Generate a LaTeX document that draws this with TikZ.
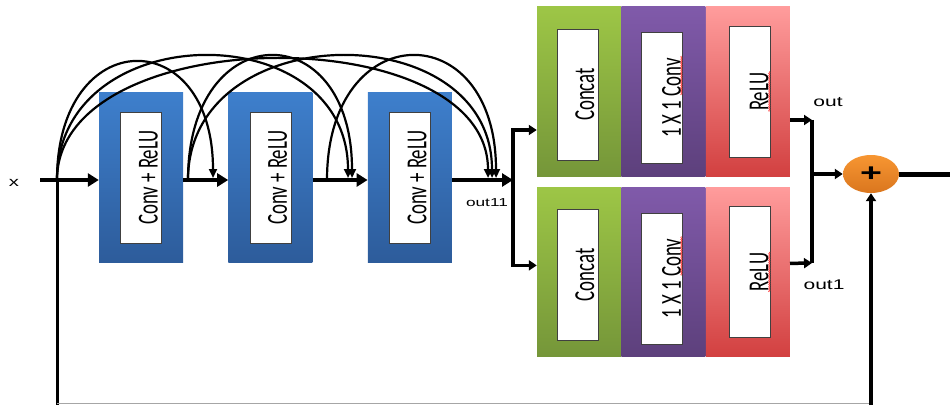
\documentclass[tikz,border=0pt]{standalone}
\usepackage{fontspec}
\usetikzlibrary{positioning, arrows.meta, shapes.geometric, decorations.pathmorphing}
\newfontfamily\blockfont[FakeStretch=0.65]{Carlito}
\newfontfamily\tagfont[FakeStretch=1.5]{Liberation Sans}
\definecolor{convtop}{RGB}{62,127,204}
\definecolor{convbot}{RGB}{45,92,155}
\definecolor{cattop}{RGB}{157,198,70}
\definecolor{catbot}{RGB}{117,150,57}
\definecolor{onetop}{RGB}{128,90,170}
\definecolor{onebot}{RGB}{93,64,124}
\definecolor{relutop}{RGB}{255,156,156}
\definecolor{relubot}{RGB}{210,64,64}
\definecolor{sumtop}{RGB}{247,150,50}
\definecolor{sumbot}{RGB}{218,118,30}
\tikzset{x=1pt, y=1pt,
block/.style={ % coloured outer cell
minimum width=84pt, minimum height=169pt, inner sep=0pt},
convbox/.style={block, top color=convtop, bottom color=convbot},
catbox/.style={block, top color=cattop, bottom color=catbot},
onebox/.style={block, top color=onetop, bottom color=onebot},
relubox/.style={block, top color=relutop, bottom color=relubot},
slab/.style={ % white label strip inside a cell, text sits low
draw=black!75, line width=0.6pt, fill=white, rotate=90,
minimum width=131pt, minimum height=41pt, inner sep=0pt,
text height=33pt, text depth=0pt,
font=\blockfont\fontsize{29}{30}\selectfont},
lowslab/.style={slab, text height=38pt},
spell/.style={red!80, line width=0.6pt, % wavy underline
decorate, decoration={snake, amplitude=0.7pt, segment length=2.2pt}},
flow/.style={line width=4.5pt, -{Triangle[length=11pt,width=13pt]}}, % main data path
branch/.style={line width=3.5pt, -{Triangle[length=8pt,width=10pt]}},
skip/.style={line width=2.2pt, -{Triangle[length=9pt,width=8pt]}}, % dense connections
tag/.style={font=\tagfont\fontsize{14}{15}\selectfont}}

\begin{document}
\begin{tikzpicture}
    \useasboundingbox (0,0) rectangle (950,405);

    % dense block
    \node[convbox] (c1) at (141,227.5) {};
    \node[convbox, right=45 of c1] (c2) {};
    \node[convbox, right=55 of c2] (c3) {};
    \node[slab] (l1) at (c1) {Conv + ReLU};
    \node[slab] (l2) at (c2) {Conv + ReLU};
    \node[slab] (l3) at (c3) {Conv + ReLU};

    % two fusion branches
    \node[catbox] (g1) at (579,313.5) {};
    \node[onebox, right=0 of g1] (p1) {};
    \node[relubox, right=0 of p1] (r1) {};
    \node[catbox, below=11 of g1] (g2) {};
    \node[onebox, right=0 of g2] (p2) {};
    \node[relubox, right=0 of p2] (r2) {};
    \node[slab, xshift=-3, yshift=1.5] (lg1) at (g1) {Concat};
    \node[lowslab, xshift=-6.5, yshift=1.5] (lp1) at (p1) {1 X 1 Conv};
    \node[lowslab, yshift=-1.5] (lr1) at (r1) {ReLU};
    \node[slab, xshift=-3, yshift=1.5] (lg2) at (g2) {Concat};
    \node[lowslab, xshift=-6.5, yshift=1.5] (lp2) at (p2) {1 X 1 Conv};
    \node[lowslab, yshift=-1.5] (lr2) at (r2) {ReLU};

    % underlines under Conv and ReLU
    \draw[spell] ([xshift=19.5,yshift=3]lp1.center) -- ([xshift=19.5,yshift=42]lp1.center);
    \draw[spell] ([xshift=19.5,yshift=3]lp2.center) -- ([xshift=19.5,yshift=42]lp2.center);
    \draw[spell] ([xshift=20,yshift=-20]lr1.center) -- ([xshift=20,yshift=20]lr1.center);
    \draw[spell] ([xshift=20,yshift=-20]lr2.center) -- ([xshift=20,yshift=20]lr2.center);

    \node[ellipse, minimum width=56pt, minimum height=38pt, inner sep=0pt,
          top color=sumtop, bottom color=sumbot] (sum) at (871,231)
          {\tagfont\bfseries\fontsize{25}{25}\selectfont +};

    % labels
    \node[tag, font=\tagfont\fontsize{13.5}{14}\selectfont] (xlab) at (14,222) {x};
    \node[tag, font=\tagfont\fontsize{11.5}{12}\selectfont] (o11) at (487,202) {out11};
    \node[tag] (o) at (828,303) {out};
    \node[tag] (o1) at (824,120) {out1};

    \coordinate (xin) at (40,225);
    \coordinate (j0) at (57,225);
    \coordinate (j1) at (188,225);
    \coordinate (j2) at (327,225);
    \coordinate (t1) at (213,227);
    \coordinate (t2a) at (348,227);
    \coordinate (t2b) at (352,227);
    \coordinate (t3a) at (488,227);
    \coordinate (t3b) at (492,227);
    \coordinate (t3c) at (496,227);
    \coordinate (split) at (513,225);
    \coordinate (outA) at (812,285);
    \coordinate (outB) at (812,142);
    \coordinate (yout) at (950,231);
    \coordinate (fbL) at (57,0);
    \coordinate (fbR) at (871,0);

    % main path
    \draw[flow] (xin) -- (xin -| c1.west);
    \draw[flow] (c1.east |- xin) -- (c2.west |- xin);
    \draw[flow] (c2.east |- xin) -- (c3.west |- xin);
    \draw[flow] (c3.east |- xin) -- (split);
    \draw[branch] (split) |- ([yshift=-38.5]g1.west);
    \draw[branch] (split) |- ([yshift=6.5]g2.west);

    % skip arcs
    \draw[skip] (j0) .. controls +(0,156) and +(0,156) .. (t1);
    \draw[skip] (j0) .. controls +(0,164) and +(0,164) .. (t2a);
    \draw[skip] (j0) .. controls +(0,160) and +(0,160) .. (t3a);
    \draw[skip] (j1) .. controls +(0,164) and +(0,164) .. (t2b);
    \draw[skip] (j1) .. controls +(0,164) and +(0,164) .. (t3b);
    \draw[skip] (j2) .. controls +(0,164) and +(0,164) .. (t3c);

    % merge and residual
    \draw[branch] ([yshift=-28.5]r1.east) -- (outA);
    \draw[branch] ([yshift=8.5]r2.east) -- (outB);
    \draw[line width=3.5pt] (outA) -- (outB);
    \draw[branch] (outA |- sum) -- (sum.west);
    \draw[line width=5pt] (sum.east) -- (yout);
    \draw[line width=3pt] (j0) -- (fbL);
    \draw[black!35, line width=0.8pt] ([yshift=2]fbL) -- ([yshift=2]fbR);
    \draw[branch] (fbR) -- (sum.south);
\end{tikzpicture}
\end{document}
